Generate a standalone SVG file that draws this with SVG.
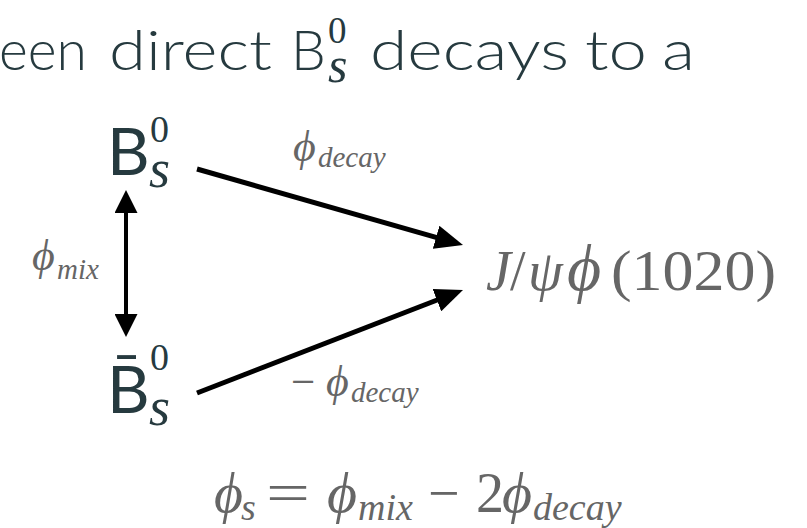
<svg xmlns="http://www.w3.org/2000/svg" width="807" height="528" viewBox="0 0 807 528">
<style>
.sans{font-family:Lato,"Open Sans","DejaVu Sans",sans-serif;fill:#263a3f}
.thin{font-weight:300}
.serif{font-family:"Liberation Serif","Times New Roman","DejaVu Serif",serif}
.it{font-style:italic}
.dark{fill:#263a3f}
.gray{fill:#666666}
.ln{stroke:#000;fill:none}
</style>
<defs>
<marker id="headV" markerUnits="userSpaceOnUse" markerWidth="23" markerHeight="23" refX="8" refY="11.5" orient="auto-start-reverse" viewBox="0 0 23 23">
<path d="M0,0 L23,11.5 L0,23 z" fill="#000"/>
</marker>
<marker id="headD" markerUnits="userSpaceOnUse" markerWidth="28" markerHeight="24" refX="10" refY="12" orient="auto" viewBox="0 0 28 24">
<path d="M0,0 L28,12 L0,24 z" fill="#000"/>
</marker>
</defs>
<rect width="807" height="528" fill="#ffffff"/>

<g id="title">
<text class="sans thin" font-size="55" y="70"><tspan x="-1" textLength="88" lengthAdjust="spacingAndGlyphs">een</tspan></text>
<text class="sans thin" font-size="55" y="70"><tspan x="109" textLength="163" lengthAdjust="spacingAndGlyphs">direct</tspan></text>
<text class="sans thin" font-size="55" x="291" y="70">B</text>
<text class="serif dark" font-size="37" x="328" y="43">0</text>
<text class="serif it dark" font-size="50" x="328" y="82">s</text>
<text class="sans thin" font-size="55" y="70"><tspan x="370" textLength="199" lengthAdjust="spacingAndGlyphs">decays</tspan></text>
<text class="sans thin" font-size="55" y="70"><tspan x="585" textLength="62" lengthAdjust="spacingAndGlyphs">to</tspan></text>
<text class="sans thin" font-size="55" y="70"><tspan x="662" textLength="33" lengthAdjust="spacingAndGlyphs">a</tspan></text>
</g>

<g id="node-Bs">
<text class="sans" font-size="66" x="107" y="175">B</text>
<text class="serif dark" font-size="38" x="150" y="142">0</text>
<text class="serif it dark" font-size="54" x="149" y="187">s</text>
</g>

<g id="node-Bsbar">
<text class="sans" font-size="66" x="107" y="413">B̄</text>
<text class="serif dark" font-size="38" x="150" y="370">0</text>
<text class="serif it dark" font-size="54" x="149" y="425">s</text>
</g>

<g id="node-final">
<text class="serif gray" font-size="56" y="290"><tspan class="it" x="486">J</tspan><tspan x="510">/</tspan><tspan class="it" x="528">ψ</tspan><tspan class="it" font-size="66" x="567">ϕ</tspan><tspan x="611" font-size="57" textLength="165" lengthAdjust="spacingAndGlyphs">(1020)</tspan></text>
</g>

<g id="connectors">
<path class="ln" stroke-width="4" d="M126,205 L126,322" marker-start="url(#headV)" marker-end="url(#headV)"/>
<path class="ln" stroke-width="5" d="M197,169 L445.7,240.05" marker-end="url(#headD)"/>
<path class="ln" stroke-width="5" d="M197,393 L446.2,296.5" marker-end="url(#headD)"/>
</g>

<g id="labels">
<text class="serif it gray" y="161"><tspan font-size="44" x="293">ϕ</tspan><tspan font-size="29" x="318" y="167">decay</tspan></text>
<text class="serif gray" y="396"><tspan font-size="43" x="291">−</tspan><tspan class="it" font-size="44" x="326">ϕ</tspan><tspan class="it" font-size="29" x="351" y="402">decay</tspan></text>
<text class="serif it gray" y="270"><tspan font-size="44" x="32">ϕ</tspan><tspan font-size="29" x="57" y="279">mix</tspan></text>
</g>

<g id="formula">
<text class="serif gray" y="512"><tspan class="it" font-size="56" x="214">ϕ</tspan><tspan class="it" font-size="38" x="241" y="520">s</tspan><tspan font-size="56" x="266" y="512" textLength="44" lengthAdjust="spacingAndGlyphs">=</tspan><tspan class="it" font-size="58" x="327">ϕ</tspan><tspan class="it" font-size="38" x="358" y="520">mix</tspan><tspan font-size="56" x="428" y="512">−</tspan><tspan font-size="56" x="476">2</tspan><tspan class="it" font-size="58" x="502">ϕ</tspan><tspan class="it" font-size="38" x="533" y="520">decay</tspan></text>
</g>
</svg>
